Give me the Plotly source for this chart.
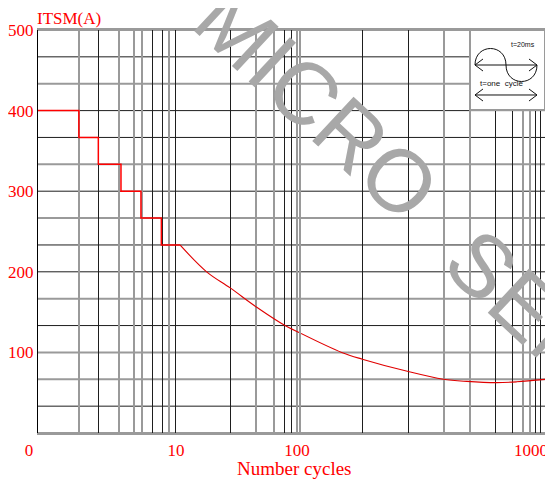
import math
import plotly.graph_objects as go

# ---------------- data ----------------
step_cycles = [1, 1.94, 2.66, 3.84, 5.31, 7.39, 10]
step_itsm = [400, 366.7, 333.3, 300, 266.7, 233.3, 233.3]

curve_cycles = [10, 16.6, 26.0, 43.1, 73.8, 100, 146.8, 178.4, 275.3, 383, 478, 634, 766, 1000]
curve_itsm = [233.3, 200, 180, 156, 133.3, 123.5, 100, 91.6, 76.2, 66.7, 64, 62.5, 63.5, 66.5]

y_tick_vals = [100, 200, 300, 400, 500]
y_tick_text = ["100", "200", "300", "400", "500"]

x_tick_vals = [1, 10, 100, 1000]
x_tick_text = ["0", "10", "100", "1000"]

# grid values of the (hand drawn) chart grid
hgrid_grey = [0, 66.7, 100, 166.7, 266.7, 333.3, 433.3, 500]
hgrid_black = [33.3, 133.3, 200, 233.3, 300, 366.7, 400, 466.7]
vgrid_grey = [[1.944, 3.719, 4.767, 5.374, 8.41],
              [10, 42.2, 59.5, 92.7, 100],
              [385.5, 492.7, 810.4, 867.8, 1000]]
vgrid_black = [[2.658, 6.38, 7.553, 9.267],
               [26.04, 72.8, 83.1],
               [178.4, 275.3, 625.7, 734.5, 912.4, 953.9]]

# ---------------- layout geometry ----------------
# the page body adds an 8px margin; figure is sized so the plot sits where the reference has it
BODY = 8
WIDTH, HEIGHT = 553 - BODY, 481 - BODY
ML, MR, MT, MB = 38 - BODY, 8, 30 - BODY, 48
PW = WIDTH - ML - MR
PH = HEIGHT - MT - MB


def px(x):  # page pixel -> paper fraction
    return (x - BODY - ML) / PW


def py(y):
    return (HEIGHT - MB - (y - BODY)) / PH


decades = [(1, 10), (10, 100), (100, 1000)]
domains = [[0, px(180)], [px(180), px(301)], [px(301), 1]]
label_shift = [-9, -4, -14]

RED = "#ff0000"
GREY = "#9a9a9a"
BLACK = "#1e1e1e"
tick_font = dict(family="Liberation Serif", size=17, color=RED)

fig = go.Figure()

# steps (first decade)
fig.add_trace(go.Scatter(x=step_cycles, y=step_itsm, mode="lines", line=dict(color=RED, width=1.5, shape="hv"),
                         xaxis="x", yaxis="y", showlegend=False))

# curve in decades 2 and 3
for i in (1, 2):
    lo, hi = decades[i]
    xs = [c for c in curve_cycles if lo <= c <= hi]
    ys = [v for c, v in zip(curve_cycles, curve_itsm) if lo <= c <= hi]
    fig.add_trace(go.Scatter(x=xs, y=ys, mode="lines", line=dict(color="#e00000", width=1.1, shape="spline"),
                             xaxis="x%d" % (i + 1), yaxis="y%d" % (i + 1), showlegend=False))

layout = dict(width=WIDTH, height=HEIGHT, margin=dict(l=ML, r=MR, t=MT, b=MB, pad=0, autoexpand=False),
              paper_bgcolor="white", plot_bgcolor="white", showlegend=False)

for i, (lo, hi) in enumerate(decades):
    labels = {v: t for v, t in zip(x_tick_vals, x_tick_text) if lo <= v <= hi}
    if i == 0:
        labels.pop(10, None)
    if i == 2:
        labels.pop(100, None)
    vals = sorted(set(vgrid_grey[i]) | set(labels.keys()))
    text = [labels.get(v, "") for v in vals]
    suffix = "" if i == 0 else str(i + 1)
    xa = dict(type="log", range=[math.log10(lo), math.log10(hi)], domain=domains[i], anchor="y" + suffix,
              tickmode="array", tickvals=vals, ticktext=text, ticks="", tickfont=tick_font,
              ticklabelshift=label_shift[i], ticklabelstandoff=1, automargin=False,
              showgrid=True, gridcolor=GREY, gridwidth=2,
              minor=dict(tickmode="array", tickvals=vgrid_black[i], showgrid=True, gridcolor=BLACK, gridwidth=1, ticks=""),
              showline=True, linecolor=GREY, linewidth=2, mirror=True, zeroline=False, fixedrange=True)
    ya = dict(range=[0, 500], domain=[0, 1], anchor="x" + suffix, showgrid=False, zeroline=False,
              tickmode="array", tickvals=y_tick_vals, ticktext=y_tick_text, ticks="", tickfont=tick_font,
              showticklabels=(i == 0), ticklabelstandoff=0, automargin=False, fixedrange=True)
    if i == 0:
        ya.update(showline=True, linecolor="black", linewidth=1)
    if i == 2:
        ya.update(showline=True, linecolor=GREY, linewidth=2, mirror=True)
    if i > 0:
        ya["matches"] = "y"
    layout["xaxis" + suffix] = xa
    layout["yaxis" + suffix] = ya

shapes = []
for v in hgrid_grey:
    shapes.append(dict(type="line", xref="paper", yref="y", x0=0, x1=1, y0=v, y1=v,
                       line=dict(color=GREY, width=2), layer="below"))
for v in hgrid_black:
    shapes.append(dict(type="line", xref="paper", yref="y", x0=0, x1=1, y0=v, y1=v,
                       line=dict(color=BLACK, width=1), layer="below"))

# inset box with one-cycle sine sketch
shapes.append(dict(type="rect", xref="paper", yref="paper", x0=px(470), x1=px(545), y0=py(110), y1=py(30),
                   fillcolor="white", line=dict(color=GREY, width=2), layer="above"))


def path(cmds):
    out = []
    for c in cmds:
        if isinstance(c, str):
            out.append(c)
        else:
            out.append("%.5f,%.5f" % (px(c[0]), py(c[1])))
    return " ".join(out)


sine = path(["M", (475, 65), "C", (475, 43), (506, 43), (506, 65), "C", (506, 87), (537, 87), (537, 65)])
arrow1 = path(["M", (475, 65), "L", (537, 65), "M", (483, 59), "L", (475, 65), "L", (483, 71),
               "M", (529, 59), "L", (537, 65), "L", (529, 71)])
arrow2 = path(["M", (475, 95), "L", (537, 95), "M", (483, 89), "L", (475, 95), "L", (483, 101),
               "M", (529, 89), "L", (537, 95), "L", (529, 101)])
for p in (sine, arrow1, arrow2):
    shapes.append(dict(type="path", xref="paper", yref="paper", path=p, line=dict(color="#111111", width=1),
                       layer="above"))

layout["shapes"] = shapes

wm_font = dict(family="Liberation Sans", size=88, color="#a8a8a8")
annotations = [
    dict(text="ITSM(A)", xref="paper", yref="paper", x=px(36), y=py(8), xanchor="left", yanchor="top",
         borderpad=0, showarrow=False, font=dict(family="Liberation Serif", size=17, color=RED)),
    dict(text="Number cycles", xref="paper", yref="paper", x=px(294), y=py(468), xanchor="center", yanchor="middle",
         borderpad=0, showarrow=False, font=dict(family="Liberation Serif", size=19, color=RED)),
    dict(text="t=20ms", xref="paper", yref="paper", x=px(523), y=py(44.5), xanchor="center", yanchor="middle",
         showarrow=False, font=dict(family="Liberation Sans", size=7, color="#111111")),
    dict(text="t=one  cycle", xref="paper", yref="paper", x=px(501), y=py(83.5), xanchor="center", yanchor="middle",
         showarrow=False, font=dict(family="Liberation Sans", size=8, color="#111111")),
    dict(text="MICRO", xref="paper", yref="paper", x=px(317), y=py(103), xanchor="center", yanchor="middle",
         textangle=43, showarrow=False, font=wm_font),
    dict(text="SEMI", xref="paper", yref="paper", x=px(539), y=py(318), xanchor="center", yanchor="middle",
         textangle=43, showarrow=False, font=wm_font),
]
layout["annotations"] = annotations

fig.update_layout(**layout)
fig.write_html("out.html")
